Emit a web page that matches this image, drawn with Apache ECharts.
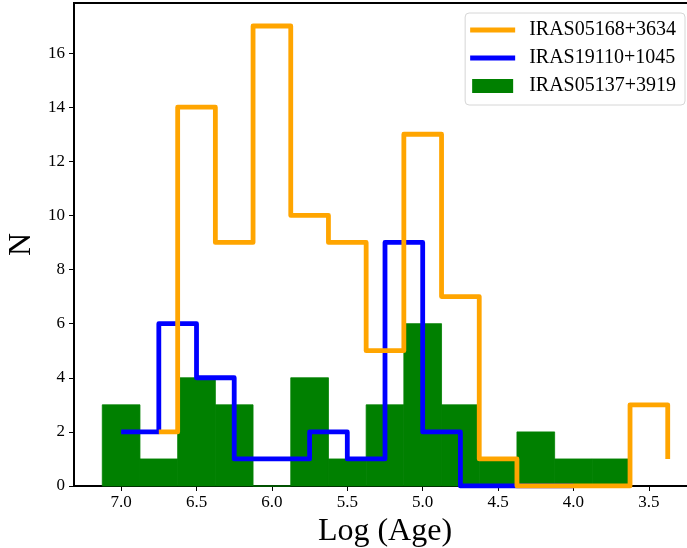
<!DOCTYPE html>
<html>
<head>
<meta charset="utf-8">
<script src="https://cdn.jsdelivr.net/npm/echarts@6/dist/echarts.min.js"></script>
<style>
html, body { margin: 0; padding: 0; background: #fff; }
#main { width: 687px; height: 548px; }
</style>
</head>
<body>
<div id="main"></div>
<script>
// 三个源的名称
const names = ['IRAS05168+3634', 'IRAS19110+1045', 'IRAS05137+3919']

// IRAS05168+3634 (橙色阶梯线) 的拐点
const orangeX = [6.75, 6.625, 6.375, 6.125, 5.875, 5.625, 5.375, 5.125, 4.875, 4.625, 4.375, 4.125, 3.875, 3.625, 3.375]
const orangeN = [2, 14, 9, 17, 10, 9, 5, 13, 7, 1, 0, 0, 0, 3, 1]

// IRAS19110+1045 (蓝色阶梯线)
const blueX = [7.0, 6.75, 6.5, 6.25, 6.0, 5.75, 5.5, 5.25, 5.0, 4.75, 4.5, 4.25, 4.0]
const blueN = [2, 6, 4, 1, 1, 2, 1, 9, 2, 0, 0, 0, 0]

// IRAS05137+3919 (绿色直方图) 每个柱的左右边界和计数
const greenLeft = [7.125, 6.875, 6.625, 6.375, 6.125, 5.875, 5.625, 5.375, 5.125, 4.875, 4.625, 4.375, 4.125, 3.875]
const greenRight = [6.875, 6.625, 6.375, 6.125, 5.875, 5.625, 5.375, 5.125, 4.875, 4.625, 4.375, 4.125, 3.875, 3.625]
const greenN = [3, 1, 4, 3, 0, 4, 1, 3, 6, 3, 1, 2, 1, 1]

// 坐标轴刻度
const xTicks = [3.5, 4.0, 4.5, 5.0, 5.5, 6.0, 6.5, 7.0]
const yTicks = [0, 2, 4, 6, 8, 10, 12, 14, 16]

const font = 'Liberation Serif, Times New Roman, serif'

const myChart = echarts.init(document.getElementById('main'), null, { renderer: 'canvas' })

myChart.setOption({
    animation: false,
    backgroundColor: '#fff',
    grid: {
        left: 74,
        right: -9,
        top: 3,
        bottom: 62,
        containLabel: false,
        outerBoundsMode: 'none',
        show: true,
        borderColor: '#000',
        borderWidth: 2,
        backgroundColor: 'transparent'
    },
    legend: {
        orient: 'vertical',
        right: 2,
        top: 13,
        itemWidth: 45,
        itemHeight: 14,
        itemGap: 8,
        padding: [7, 9, 9, 5],
        borderColor: '#d6d6d6',
        borderWidth: 1,
        borderRadius: 4,
        backgroundColor: 'rgba(255, 255, 255, 0.8)',
        textStyle: {
            fontFamily: font,
            fontSize: 20,
            color: '#000',
            padding: [0, 0, 0, 9]
        },
        data: [
            { name: names[0], icon: 'path://M0,0h45v4.8H0z' },
            { name: names[1], icon: 'path://M0,0h45v4.8H0z' },
            { name: names[2], icon: 'path://M0,0h41v14H0z' }
        ]
    },
    xAxis: {
        type: 'value',
        inverse: true,
        min: 3.1875,
        max: 7.3125,
        name: 'Log (Age)',
        nameLocation: 'middle',
        nameGap: 30,
        nameMoveOverlap: false,
        nameTextStyle: { fontFamily: font, fontSize: 32, color: '#000' },
        axisLine: { show: true, onZero: false, lineStyle: { color: '#000', width: 2 } },
        axisTick: {
            show: true,
            length: 5,
            customValues: xTicks,
            lineStyle: { color: '#000', width: 1 }
        },
        axisLabel: {
            fontFamily: font,
            fontSize: 17,
            color: '#000',
            margin: 8,
            customValues: xTicks,
            formatter: function (v) {
                return v.toFixed(1)
            }
        },
        splitLine: { show: false }
    },
    yAxis: {
        type: 'value',
        min: 0,
        max: 17.85,
        name: 'N',
        nameLocation: 'middle',
        nameRotate: 90,
        nameGap: 36,
        nameMoveOverlap: false,
        nameTextStyle: { fontFamily: font, fontSize: 32, color: '#000', padding: [12, 0, 0, 0] },
        axisLine: { show: true, lineStyle: { color: '#000', width: 2 } },
        axisTick: {
            show: true,
            length: 5,
            customValues: yTicks,
            lineStyle: { color: '#000', width: 1 }
        },
        axisLabel: {
            fontFamily: font,
            fontSize: 17,
            color: '#000',
            margin: 9,
            customValues: yTicks
        },
        splitLine: { show: false }
    },
    series: [
        {
            name: names[2],
            type: 'custom',
            z: 1,
            itemStyle: { color: '#008000' },
            encode: { x: [0, 1], y: 2 },
            data: greenN.map((n, i) => [greenLeft[i], greenRight[i], n]),
            renderItem: function (params, api) {
                const p0 = api.coord([api.value(0), api.value(2)])
                const p1 = api.coord([api.value(1), 0])
                return {
                    type: 'rect',
                    shape: {
                        x: Math.min(p0[0], p1[0]),
                        y: p0[1],
                        width: Math.abs(p1[0] - p0[0]),
                        height: p1[1] - p0[1]
                    },
                    style: { fill: '#008000', stroke: '#008000', lineWidth: 0.8 }
                }
            }
        },
        {
            name: names[1],
            type: 'line',
            z: 2,
            step: 'end',
            symbol: 'none',
            color: '#0000ff',
            lineStyle: { color: '#0000ff', width: 4.8, join: 'round', cap: 'butt' },
            data: blueX.map((x, i) => [x, blueN[i]])
        },
        {
            name: names[0],
            type: 'line',
            z: 3,
            step: 'end',
            symbol: 'none',
            color: '#ffa500',
            lineStyle: { color: '#ffa500', width: 4.8, join: 'round', cap: 'butt' },
            data: orangeX.map((x, i) => [x, orangeN[i]])
        }
    ]
})
</script>
</body>
</html>
